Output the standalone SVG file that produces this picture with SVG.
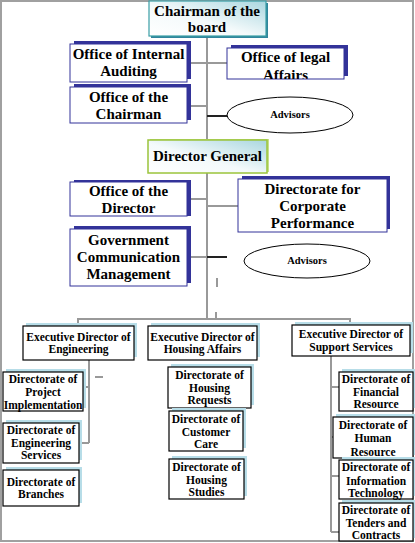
<svg xmlns="http://www.w3.org/2000/svg" width="415" height="543" viewBox="0 0 415 543">
<style>
text{font-family:'Liberation Serif','DejaVu Serif',serif;font-weight:bold;fill:#000;text-anchor:middle}
.big{font-size:15px}
.sm{font-size:11.5px}
.adv{font-size:10.5px}
.nshadow{fill:#333399}
.nbox{fill:#fff;stroke:#333399;stroke-width:1}
.lshadow{fill:#b7dde8}
.kbox{fill:#fff;stroke:#000;stroke-width:1.2}
.conn{stroke:#999;stroke-width:2;fill:none}
.blk{stroke:#222;stroke-width:2;fill:none}
.ell{fill:#fff;stroke:#000;stroke-width:1}
</style>
<defs>
<linearGradient id="tg" x1="0" y1="1" x2="1" y2="0">
<stop offset="0" stop-color="#ffffff"/>
<stop offset="0.45" stop-color="#f4fafb"/>
<stop offset="1" stop-color="#a9d6df"/>
</linearGradient>
<clipPath id="clipLegal"><rect x="227" y="48" width="117" height="31"/></clipPath>
</defs>
<rect x="1" y="1" width="412" height="540" fill="#fff" stroke="#a0a0a0" stroke-width="2"/>
<g id="connectors">
<path class="conn" d="M207 36 V319"/>
<path class="conn" d="M187 63 H227"/>
<path class="conn" d="M187 106 H207"/>
<path class="blk" d="M207 116 H227"/>
<path class="conn" d="M187 199 H207"/>
<path class="conn" d="M207 206 H238"/>
<path class="conn" d="M187 257 H207"/>
<path class="blk" d="M207 257 H227"/>
<path class="conn" d="M217 278 V287"/>
<path class="conn" d="M216 312 V320"/>
<path class="conn" d="M78 326 V319 H350 V326"/>
<path class="conn" d="M89 360 V443"/>
<path class="conn" d="M83 387 H89"/>
<path class="conn" d="M79 443 H89" stroke-width="3"/>
<path class="conn" d="M95 377 H103"/>
<path class="conn" d="M331 356 V532"/>
<path class="conn" d="M331 387 H339"/>
<path class="conn" d="M331 437 H333"/>
<path class="conn" d="M331 476 H339"/>
<path class="conn" d="M331 532 H339"/>
</g>
<g id="chairman">
<rect x="151" y="3" width="117" height="35" fill="#31859c"/>
<rect x="149" y="1" width="117" height="35" fill="url(#tg)" stroke="#3a9ea6" stroke-width="1.2"/>
<text class="big" x="207" y="16">Chairman of the</text>
<text class="big" x="207" y="32">board</text>
</g>
<g id="internal-auditing">
<rect class="nshadow" x="74" y="41" width="117" height="38"/>
<rect class="nbox" x="70" y="44" width="117" height="38"/>
<text class="big" x="128.5" y="59">Office of Internal</text>
<text class="big" x="128.5" y="76">Auditing</text>
</g>
<g id="legal-affairs">
<rect class="nshadow" x="231" y="45" width="117" height="31"/>
<rect class="nbox" x="227" y="48" width="117" height="31"/>
<g clip-path="url(#clipLegal)">
<text class="big" x="285.5" y="62">Office of legal</text>
<text class="big" x="285.5" y="80">Affairs</text>
</g>
</g>
<g id="office-chairman">
<rect class="nshadow" x="74" y="84" width="117" height="36"/>
<rect class="nbox" x="70" y="87" width="117" height="36"/>
<text class="big" x="128.5" y="102">Office of the</text>
<text class="big" x="128.5" y="119">Chairman</text>
</g>
<g id="advisors-1">
<ellipse class="ell" cx="290" cy="115" rx="63" ry="18"/>
<text class="adv" x="290" y="118">Advisors</text>
</g>
<g id="director-general">
<rect x="150" y="139" width="119" height="33" fill="#c6e08a"/>
<rect x="148" y="140" width="119" height="33" fill="url(#tg)" stroke="#9bc43b" stroke-width="1.5"/>
<text class="big" x="207.5" y="161">Director General</text>
</g>
<g id="office-director">
<rect class="nshadow" x="74" y="180" width="117" height="36"/>
<rect class="nbox" x="70" y="182" width="117" height="34"/>
<text class="big" x="128.5" y="196">Office of the</text>
<text class="big" x="128.5" y="213">Director</text>
</g>
<g id="corporate-performance">
<rect class="nshadow" x="242" y="176" width="148" height="53"/>
<rect class="nbox" x="238" y="179" width="149" height="53"/>
<text class="big" x="312.5" y="194">Directorate for</text>
<text class="big" x="312.5" y="211">Corporate</text>
<text class="big" x="312.5" y="228">Performance</text>
</g>
<g id="gov-communication">
<rect class="nshadow" x="74" y="226" width="117" height="57"/>
<rect class="nbox" x="70" y="229" width="117" height="57"/>
<text class="big" x="128.5" y="245">Government</text>
<text class="big" x="128.5" y="262">Communication</text>
<text class="big" x="128.5" y="279">Management</text>
</g>
<g id="advisors-2">
<ellipse class="ell" cx="307" cy="261" rx="63" ry="17"/>
<text class="adv" x="307" y="264">Advisors</text>
</g>
<g id="exec-engineering">
<rect class="lshadow" x="26" y="323" width="111" height="34"/>
<rect class="kbox" x="23" y="326" width="111" height="34"/>
<text class="sm" x="78.5" y="341">Executive Director of</text>
<text class="sm" x="78.5" y="353">Engineering</text>
</g>
<g id="exec-housing">
<rect class="lshadow" x="151" y="323" width="109" height="34"/>
<rect class="kbox" x="148" y="326" width="109" height="34"/>
<text class="sm" x="202.5" y="341">Executive Director of</text>
<text class="sm" x="202.5" y="353">Housing Affairs</text>
</g>
<g id="exec-support">
<rect class="lshadow" x="295" y="322" width="118" height="31"/>
<rect class="kbox" x="292" y="325" width="118" height="31"/>
<text class="sm" x="351" y="338">Executive Director of</text>
<text class="sm" x="351" y="351">Support Services</text>
</g>
<g id="project-implementation">
<rect class="lshadow" x="6" y="369" width="80" height="39"/>
<rect class="kbox" x="3" y="372" width="80" height="39"/>
<text class="sm" x="43" y="383">Directorate of</text>
<text class="sm" x="43" y="396">Project</text>
<text class="sm" x="43" y="409">Implementation</text>
</g>
<g id="engineering-services">
<rect class="lshadow" x="6" y="420" width="76" height="40"/>
<rect class="kbox" x="3" y="423" width="76" height="40"/>
<text class="sm" x="41" y="434">Directorate of</text>
<text class="sm" x="41" y="447">Engineering</text>
<text class="sm" x="41" y="459">Services</text>
</g>
<g id="branches">
<rect class="lshadow" x="6" y="467" width="76" height="36"/>
<rect class="kbox" x="3" y="470" width="76" height="36"/>
<text class="sm" x="41" y="486">Directorate of</text>
<text class="sm" x="41" y="498">Branches</text>
</g>
<g id="housing-requests">
<rect class="lshadow" x="171" y="364" width="83" height="41"/>
<rect class="kbox" x="168" y="367" width="83" height="41"/>
<text class="sm" x="209.5" y="379">Directorate of</text>
<text class="sm" x="209.5" y="392">Housing</text>
<text class="sm" x="209.5" y="404">Requests</text>
</g>
<g id="customer-care">
<rect class="lshadow" x="172" y="408" width="74" height="40"/>
<rect class="kbox" x="169" y="411" width="74" height="40"/>
<text class="sm" x="206" y="423">Directorate of</text>
<text class="sm" x="206" y="436">Customer</text>
<text class="sm" x="206" y="448">Care</text>
</g>
<g id="housing-studies">
<rect class="lshadow" x="172" y="456" width="75" height="40"/>
<rect class="kbox" x="169" y="459" width="75" height="40"/>
<text class="sm" x="206.5" y="471">Directorate of</text>
<text class="sm" x="206.5" y="484">Housing</text>
<text class="sm" x="206.5" y="496">Studies</text>
</g>
<g id="financial-resource">
<rect class="lshadow" x="342" y="369" width="74" height="39"/>
<rect class="kbox" x="339" y="372" width="74" height="39"/>
<text class="sm" x="376" y="383">Directorate of</text>
<text class="sm" x="376" y="396">Financial</text>
<text class="sm" x="376" y="408">Resource</text>
</g>
<g id="human-resource">
<rect class="lshadow" x="336" y="414" width="80" height="41"/>
<rect class="kbox" x="333" y="417" width="80" height="41"/>
<text class="sm" x="373" y="429">Directorate of</text>
<text class="sm" x="373" y="442">Human</text>
<text class="sm" x="373" y="456">Resource</text>
</g>
<g id="information-technology">
<rect class="lshadow" x="342" y="457" width="74" height="39"/>
<rect class="kbox" x="339" y="460" width="74" height="39"/>
<text class="sm" x="376" y="471">Directorate of</text>
<text class="sm" x="376" y="485">Information</text>
<text class="sm" x="376" y="497">Technology</text>
</g>
<g id="tenders-contracts">
<rect class="lshadow" x="342" y="500" width="74" height="38"/>
<rect class="kbox" x="339" y="503" width="74" height="38"/>
<text class="sm" x="376" y="514">Directorate of</text>
<text class="sm" x="376" y="527">Tenders and</text>
<text class="sm" x="376" y="539">Contracts</text>
</g>
</svg>
